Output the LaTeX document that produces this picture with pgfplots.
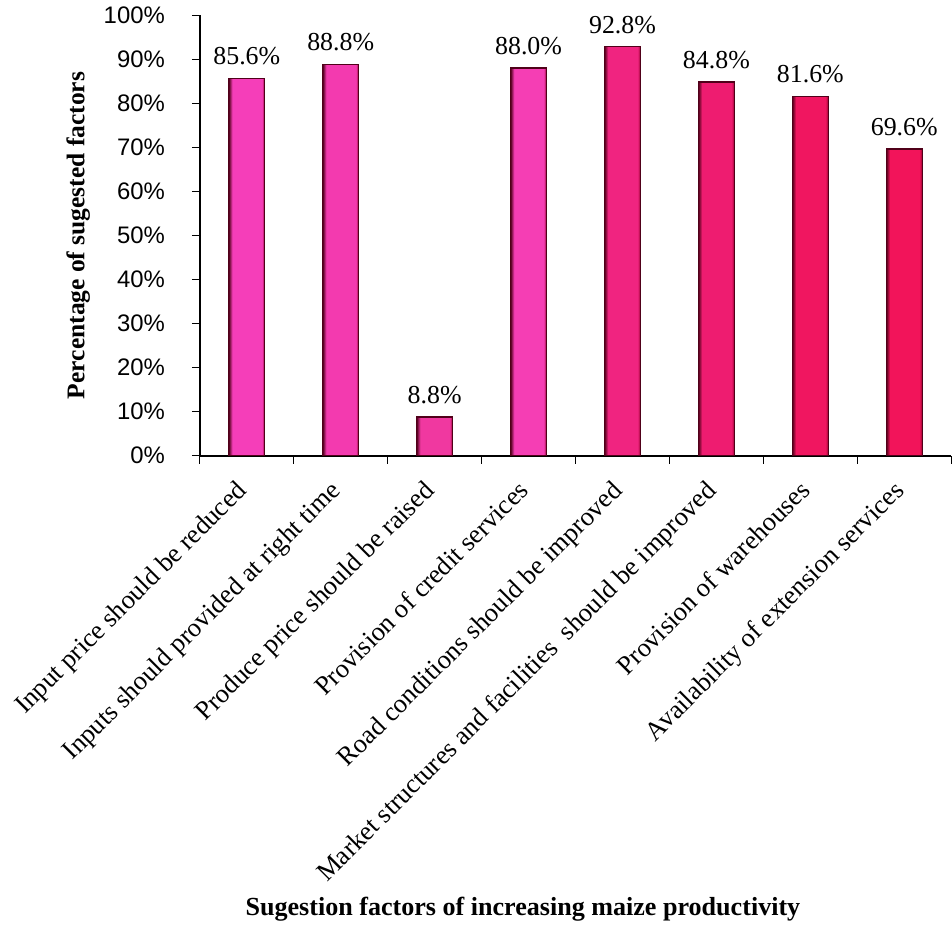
\documentclass[border=0pt]{standalone}
\usepackage{fontspec}
\setmainfont{Liberation Serif}
\newfontfamily\arialf{Liberation Sans}
\usepackage{pgfplots}
\pgfplotsset{compat=1.18}
\definecolor{c1}{RGB}{245,62,185}
\definecolor{c2}{RGB}{243,58,175}
\definecolor{c3}{RGB}{240,56,160}
\definecolor{c4}{RGB}{245,62,180}
\definecolor{c5}{RGB}{240,36,128}
\definecolor{c6}{RGB}{238,28,112}
\definecolor{c7}{RGB}{240,22,96}
\definecolor{c8}{RGB}{242,20,90}
\definecolor{dk}{RGB}{80,0,25}
\definecolor{dr}{RGB}{150,0,45}
\newcommand\mkshade[1]{\pgfdeclarehorizontalshading{sh#1}{100bp}{color(0bp)=(dk); color(25bp)=(dk); color(30bp)=(#1); color(71bp)=(#1); color(75bp)=(dr); color(100bp)=(dr)}}
\mkshade{c1}\mkshade{c2}\mkshade{c3}\mkshade{c4}\mkshade{c5}\mkshade{c6}\mkshade{c7}\mkshade{c8}
\begin{document}
\begin{tikzpicture}
\begin{axis}[
  width=376bp, height=220.5bp, scale only axis,
  ybar, bar width=18bp,
  xmin=-0.5, xmax=7.5, ymin=0, ymax=100,
  axis x line=bottom, axis y line=left,
  axis line style={-, line width=0.8pt},
  /pgf/number format/assume math mode=true,
  ytick={0,10,...,100},
  yticklabels={0\%,10\%,20\%,30\%,40\%,50\%,60\%,70\%,80\%,90\%,100\%},
  yticklabel style={font=\arialf\fontsize{12}{14}\selectfont, xshift=-10bp},
  xtick={0,...,7},
  xticklabels={Input price should be reduced,
    Inputs should provided at right time,
    Produce price should be raised,
    Provision of credit services,
    Road conditions should be improved,
    Market structures and facilities\ \ should be improved,
    Provision of warehouses,
    Availability of extension services},
  xticklabel style={yshift=-6bp, xshift=-6bp, rotate=45, anchor=north east, font=\fontsize{13.3}{15}\selectfont, inner sep=1bp},
  major x tick style={draw=none},
  minor xtick={-0.5,0.5,...,7.5},
  tick align=outside,
  tick style={black, line width=0.6pt},
  major tick length=4bp, minor tick length=4bp,
  nodes near coords={\pgfmathprintnumber[fixed,fixed zerofill,precision=1]{\pgfplotspointmeta}\%},
  every node near coord/.append style={font=\fontsize{13}{15}\selectfont, black, yshift=3bp},
  xlabel={\bfseries Sugestion factors of increasing maize productivity},
  ylabel={\bfseries Percentage of sugested factors},
  every axis x label/.append style={at={(ticklabel cs:0.43)}, font=\fontsize{13.1}{15}\selectfont},
  every axis y label/.append style={font=\fontsize{12.8}{15}\selectfont},
]
\addplot[bar shift=0pt, shading=shc1, draw=dk, line width=0.6bp] coordinates {(0,85.6)};
\addplot[bar shift=0pt, shading=shc2, draw=dk, line width=0.6bp] coordinates {(1,88.8)};
\addplot[bar shift=0pt, shading=shc3, draw=dk, line width=0.6bp] coordinates {(2,8.8)};
\addplot[bar shift=0pt, shading=shc4, draw=dk, line width=0.6bp] coordinates {(3,88.0)};
\addplot[bar shift=0pt, shading=shc5, draw=dk, line width=0.6bp] coordinates {(4,92.8)};
\addplot[bar shift=0pt, shading=shc6, draw=dk, line width=0.6bp] coordinates {(5,84.8)};
\addplot[bar shift=0pt, shading=shc7, draw=dk, line width=0.6bp] coordinates {(6,81.6)};
\addplot[bar shift=0pt, shading=shc8, draw=dk, line width=0.6bp] coordinates {(7,69.6)};
\end{axis}
\path (current axis.south west) ++(-100bp,0pt);
\end{tikzpicture}
\end{document}
